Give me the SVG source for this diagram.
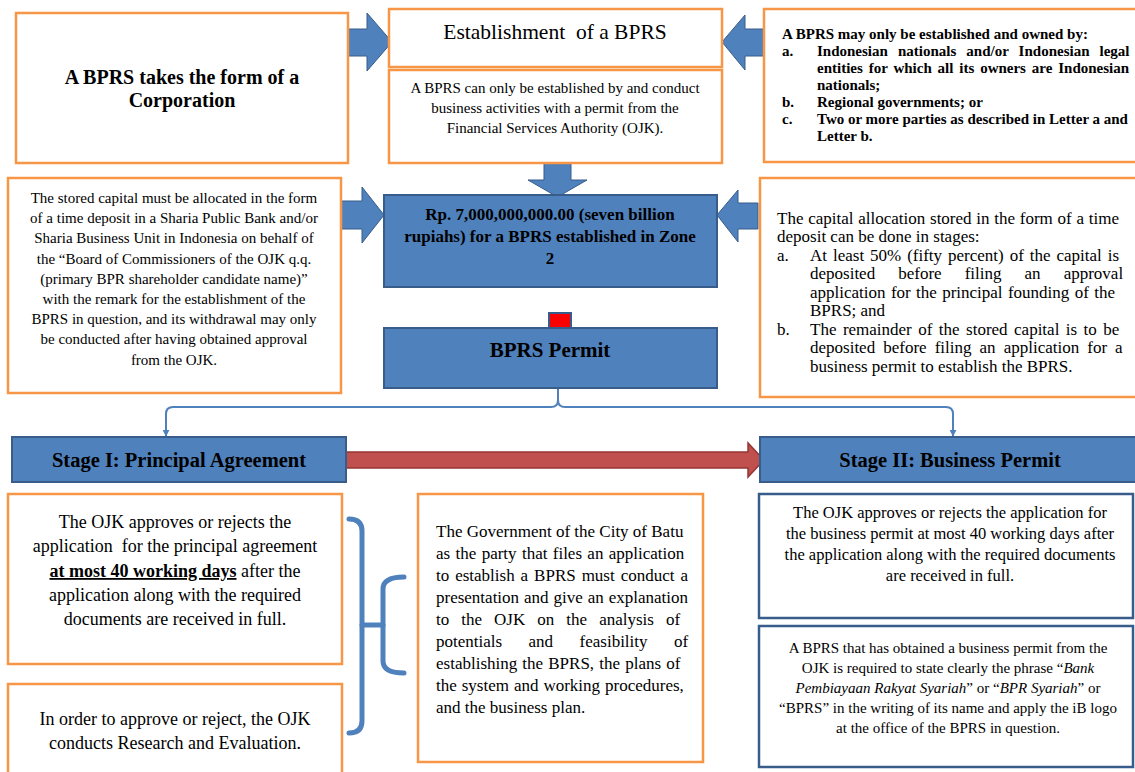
<svg xmlns="http://www.w3.org/2000/svg" width="1135" height="772" viewBox="0 0 1135 772">
<defs>
<style>
.ob{fill:#fff;stroke:#F79646;stroke-width:2.5}
.bb{fill:#4F81BD;stroke:#385D8A;stroke-width:2}
.db{fill:#fff;stroke:#385D8A;stroke-width:2.5}
.ar{fill:#4F81BD;stroke:#385D8A;stroke-width:1}
.t{font-family:"Liberation Serif","Times New Roman",serif;fill:#000}
.b{font-weight:bold}
.c{text-anchor:middle}
.br{fill:none;stroke:#4F81BD;stroke-width:5;stroke-linecap:round;stroke-linejoin:round}
.cn{fill:none;stroke:#4F81BD;stroke-width:2}
</style>
<marker id="ah" viewBox="0 0 10 10" refX="9" refY="5" markerWidth="7" markerHeight="7" markerUnits="userSpaceOnUse" orient="auto">
<path d="M0,0 L10,5 L0,10 z" fill="#4F81BD"/>
</marker>
</defs>
<rect width="1135" height="772" fill="#fff"/>

<g id="connectors">
<polygon class="ar" points="346,29 367,29 367,13 392,42 367,71 367,56 346,56"/>
<polygon class="ar" points="764,29 745,29 745,15 722,42 745,70 745,56 764,56"/>
<polygon class="ar" points="544,163 571,163 571,180 587,180 557.5,197 528,180 544,180"/>
<polygon class="ar" points="341,201 362,201 362,187 384,215 362,243 362,229 341,229"/>
<polygon class="ar" points="758,203 738,203 738,190 717,215 738,242 738,229 758,229"/>
<path class="cn" d="M558,388 L558,400 Q558,407 551,407 L173,407 Q166,407 166,414 L166,436" marker-end="url(#ah)"/>
<path class="cn" d="M558,400 Q558,407 565,407 L946,407 Q953,407 953,414 L953,436" marker-end="url(#ah)"/>
<polygon points="346,452 748,452 748,443 764,460 748,477 748,468 346,468" fill="#C0504D" stroke="#943634" stroke-width="1.5"/>
<path class="br" d="M349,519 Q362,519 362,531 L362,721 Q362,733 349,733"/>
<path class="br" d="M362,625 L383,625"/>
<path class="br" d="M404,577 Q383,577 383,589 L383,661 Q383,673 404,673"/>
</g>

<g id="corporation">
<rect class="ob" x="16" y="13" width="332" height="150"/>
<text class="t b c" font-size="20" x="182" y="84">A BPRS takes the form of a</text>
<text class="t b c" font-size="20" x="182" y="107">Corporation</text>
</g>

<g id="establishment">
<rect class="ob" x="389" y="9" width="333" height="58"/>
<text class="t c" font-size="21.5" x="555" y="39" xml:space="preserve">Establishment  of a BPRS</text>
</g>

<g id="establishment-desc">
<rect class="ob" x="389" y="70" width="333" height="93"/>
<text class="t c" font-size="15" x="555" y="93">A BPRS can only be established by and conduct</text>
<text class="t c" font-size="15" x="555" y="113">business activities with a permit from the</text>
<text class="t c" font-size="15" x="555" y="133">Financial Services Authority (OJK).</text>
</g>

<g id="owners">
<rect class="ob" x="764" y="9" width="376" height="153"/>
<g class="t b" font-size="15">
<text x="782" y="39">A BPRS may only be established and owned by:</text>
<text x="782" y="56">a.</text>
<text x="817" y="56" word-spacing="6.3">Indonesian nationals and/or Indonesian legal</text>
<text x="817" y="73" word-spacing="2.1">entities for which all its owners are Indonesian</text>
<text x="817" y="90">nationals;</text>
<text x="782" y="107">b.</text>
<text x="817" y="107">Regional governments; or</text>
<text x="782" y="124">c.</text>
<text x="817" y="124">Two or more parties as described in Letter a and</text>
<text x="817" y="141">Letter b.</text>
</g>
</g>

<g id="stored-capital">
<rect class="ob" x="8" y="178" width="333" height="215"/>
<g class="t c" font-size="15">
<text x="174" y="203">The stored capital must be allocated in the form</text>
<text x="174" y="223">of a time deposit in a Sharia Public Bank and/or</text>
<text x="174" y="243">Sharia Business Unit in Indonesia on behalf of</text>
<text x="174" y="264">the “Board of Commissioners of the OJK q.q.</text>
<text x="174" y="284">(primary BPR shareholder candidate name)”</text>
<text x="174" y="304">with the remark for the establishment of the</text>
<text x="174" y="324">BPRS in question, and its withdrawal may only</text>
<text x="174" y="344">be conducted after having obtained approval</text>
<text x="174" y="365">from the OJK.</text>
</g>
</g>

<g id="capital">
<rect class="bb" x="384" y="195" width="333" height="92"/>
<g class="t b c" font-size="17">
<text x="550" y="220">Rp. 7,000,000,000.00 (seven billion</text>
<text x="550" y="242">rupiahs) for a BPRS established in Zone</text>
<text x="550" y="264">2</text>
</g>
</g>

<g id="capital-stages">
<rect class="ob" x="760" y="178" width="380" height="219"/>
<g class="t" font-size="17">
<text x="777" y="223.5" word-spacing="0.5">The capital allocation stored in the form of a time</text>
<text x="777" y="242">deposit can be done in stages:</text>
<text x="777" y="260.5">a.</text>
<text x="810" y="260.5" word-spacing="1.7">At least 50% (fifty percent) of the capital is</text>
<text x="810" y="279" word-spacing="18.8">deposited before filing an approval</text>
<text x="810" y="297.5" word-spacing="1.1">application for the principal founding of the</text>
<text x="810" y="316">BPRS; and</text>
<text x="777" y="334.5">b.</text>
<text x="810" y="334.5" word-spacing="2.2">The remainder of the stored capital is to be</text>
<text x="810" y="353" word-spacing="3.8">deposited before filing an application for a</text>
<text x="810" y="371.5">business permit to establish the BPRS.</text>
</g>
</g>

<g id="marker-square">
<rect x="549" y="313" width="22" height="15" fill="#FF0000" stroke="#385D8A" stroke-width="2"/>
</g>

<g id="permit">
<rect class="bb" x="384" y="328" width="333" height="60"/>
<text class="t b c" font-size="21" x="550" y="357">BPRS Permit</text>
</g>

<g id="stage1">
<rect class="bb" x="12" y="437" width="334" height="45"/>
<text class="t b c" font-size="20.5" x="179" y="467">Stage I: Principal Agreement</text>
</g>

<g id="stage2">
<rect class="bb" x="760" y="437" width="380" height="45"/>
<text class="t b c" font-size="20.5" x="950" y="467">Stage II: Business Permit</text>
</g>

<g id="principal-approval">
<rect class="ob" x="8" y="494" width="334" height="170"/>
<g class="t c" font-size="18">
<text x="175" y="528">The OJK approves or rejects the</text>
<text x="175" y="552" xml:space="preserve">application  for the principal agreement</text>
<text x="175" y="577"><tspan font-weight="bold" text-decoration="underline">at most 40 working days</tspan> after the</text>
<text x="175" y="601">application along with the required</text>
<text x="175" y="625">documents are received in full.</text>
</g>
</g>

<g id="research">
<rect class="ob" x="8" y="684" width="334" height="100"/>
<g class="t c" font-size="18">
<text x="175" y="725">In order to approve or reject, the OJK</text>
<text x="175" y="749">conducts Research and Evaluation.</text>
</g>
</g>

<g id="presentation">
<rect class="ob" x="418" y="494" width="285" height="268"/>
<g class="t" font-size="17">
<text x="436" y="537">The Government of the City of Batu</text>
<text x="436" y="559" word-spacing="1.1">as the party that files an application</text>
<text x="436" y="581" word-spacing="1.7">to establish a BPRS must conduct a</text>
<text x="436" y="603" word-spacing="0.7">presentation and give an explanation</text>
<text x="436" y="625" word-spacing="7.8">to the OJK on the analysis of</text>
<text x="436" y="647" word-spacing="22.2">potentials and feasibility of</text>
<text x="436" y="669" word-spacing="0.9">establishing the BPRS, the plans of</text>
<text x="436" y="691" word-spacing="0.7">the system and working procedures,</text>
<text x="436" y="713">and the business plan.</text>
</g>
</g>

<g id="business-approval">
<rect class="db" x="759" y="494" width="374" height="124"/>
<g class="t c" font-size="16.5">
<text x="950" y="517.5">The OJK approves or rejects the application for</text>
<text x="950" y="538.5">the business permit at most 40 working days after</text>
<text x="950" y="559.5">the application along with the required documents</text>
<text x="950" y="580.5">are received in full.</text>
</g>
</g>

<g id="naming">
<rect class="db" x="759" y="626" width="374" height="141"/>
<g class="t c" font-size="15">
<text x="948" y="653">A BPRS that has obtained a business permit from the</text>
<text x="948" y="673">OJK is required to state clearly the phrase “<tspan font-style="italic">Bank</tspan></text>
<text x="948" y="693"><tspan font-style="italic">Pembiayaan Rakyat Syariah</tspan>” or “<tspan font-style="italic">BPR Syariah</tspan>” or</text>
<text x="948" y="713">“BPRS” in the writing of its name and apply the iB logo</text>
<text x="948" y="733">at the office of the BPRS in question.</text>
</g>
</g>
</svg>
